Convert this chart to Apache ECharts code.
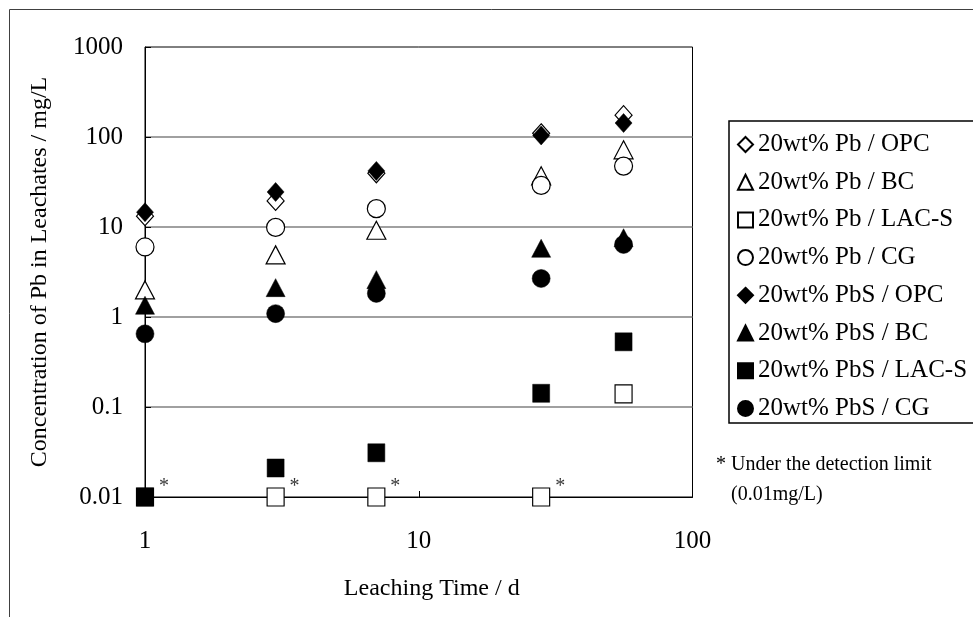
<!DOCTYPE html>
<html>
<head>
<meta charset="utf-8">
<script src="https://cdn.jsdelivr.net/npm/echarts@6/dist/echarts.min.js"></script>
<style>
html,body{margin:0;padding:0;background:#fff;}
#chart{width:973px;height:617px;}
</style>
</head>
<body>
<div id="chart"></div>
<script>
// ---- data ----
const days = [1, 3, 7, 28, 56];
const seriesNames = [
  '20wt% Pb / OPC', '20wt% Pb / BC', '20wt% Pb / LAC-S', '20wt% Pb / CG',
  '20wt% PbS / OPC', '20wt% PbS / BC', '20wt% PbS / LAC-S', '20wt% PbS / CG'
];
const pbOPC   = [13.2, 19.5, 39.5, 110, 175];
const pbBC    = [2.0, 4.9, 9.2, 37, 72];
const pbLACS  = [0.01, 0.01, 0.01, 0.01, 0.14];
const pbCG    = [6.0, 9.9, 16.0, 29, 47.5];
const pbsOPC  = [14.6, 24.5, 42, 104, 143];
const pbsBC   = [1.35, 2.12, 2.6, 5.8, 7.6];
const pbsLACS = [0.01, 0.021, 0.031, 0.142, 0.53];
const pbsCG   = [0.65, 1.09, 1.83, 2.68, 6.4];
const asteriskDays = [1, 3, 7, 28];
const detectionLimit = 0.01;
const xTickLabels = ['1', '10', '100'];
const yTickLabels = ['0.01', '0.1', '1', '10', '100', '1000'];
const xTitle = 'Leaching Time / d';
const yTitle = 'Concentration of Pb in Leachates / mg/L';
const noteLines = ['* Under the detection limit', '(0.01mg/L)'];

// ---- chart ----
const FONT = '"Liberation Serif", "Times New Roman", serif';
const values = [pbOPC, pbBC, pbLACS, pbCG, pbsOPC, pbsBC, pbsLACS, pbsCG];
const symbols = ['diamond', 'triangle', 'rect', 'circle', 'diamond', 'triangle', 'rect', 'circle'];
const sizes = {diamond: [17, 19], triangle: [19, 18], rect: [17, 18], circle: [18, 18]};

function findLabel(list, v) {
  const t = list.find(s => Math.abs(Math.log10(parseFloat(s)) - Math.log10(v)) < 1e-6);
  return t === undefined ? '' : t;
}

const series = values.map((arr, i) => {
  const filled = i >= 4;
  return {
    name: seriesNames[i],
    type: 'scatter',
    symbol: symbols[i],
    symbolSize: sizes[symbols[i]],
    data: days.map((d, j) => [d, arr[j]]),
    itemStyle: filled
      ? {color: '#000', borderColor: '#000', borderWidth: 0.5, opacity: 1}
      : {color: '#fff', borderColor: '#000', borderWidth: 1.2, opacity: 1},
    emphasis: {disabled: true},
    z: 3 + i
  };
});

series.push({
  name: 'asterisk',
  type: 'scatter',
  symbolSize: 0,
  silent: true,
  data: asteriskDays.map(d => [d, detectionLimit]),
  label: {
    show: true,
    formatter: '*',
    position: 'inside',
    offset: [19, -10],
    fontFamily: FONT,
    fontSize: 20,
    color: '#000'
  },
  z: 20
});

const chart = echarts.init(document.getElementById('chart'), null, {renderer: 'canvas'});
chart.setOption({
  animation: false,
  backgroundColor: '#fff',
  grid: {
    left: 145, right: 280.5, top: 47, bottom: 120,
    show: true, borderColor: '#000', borderWidth: 1, backgroundColor: 'transparent'
  },
  xAxis: {
    type: 'log', logBase: 10, min: 1, max: 100,
    axisLine: {show: true, lineStyle: {color: '#000', width: 1}},
    axisTick: {show: true, inside: true, length: 6, lineStyle: {color: '#000', width: 1}},
    minorTick: {show: false},
    splitLine: {show: false},
    axisLabel: {
      margin: 32, fontFamily: FONT, fontSize: 25, color: '#000',
      formatter: v => findLabel(xTickLabels, v)
    },
    name: xTitle, nameLocation: 'middle', nameGap: 80,
    nameTextStyle: {fontFamily: FONT, fontSize: 24, color: '#000', padding: [0, 0, 0, 26]}
  },
  yAxis: {
    type: 'log', logBase: 10, min: 0.01, max: 1000,
    axisLine: {show: true, lineStyle: {color: '#000', width: 1}},
    axisTick: {show: true, inside: true, length: 6, lineStyle: {color: '#000', width: 1}},
    minorTick: {show: false},
    splitLine: {show: true, showMinLine: false, showMaxLine: false,
      lineStyle: {color: '#808080', width: 1.5}},
    axisLabel: {
      margin: 22, fontFamily: FONT, fontSize: 25, color: '#000',
      formatter: v => findLabel(yTickLabels, v)
    },
    name: yTitle, nameLocation: 'middle', nameGap: 93,
    nameTextStyle: {fontFamily: FONT, fontSize: 24, color: '#000'}
  },
  legend: {
    data: seriesNames,
    orient: 'vertical',
    left: 737, top: 132,
    padding: 0,
    itemGap: 12.7,
    itemWidth: 15, itemHeight: 15,
    selectedMode: false,
    textStyle: {fontFamily: FONT, fontSize: 25, color: '#000', lineHeight: 24}
  },
  graphic: [
    {type: 'rect', silent: true, z: -10,
      shape: {x: 9.5, y: 9.5, width: 1000, height: 700},
      style: {fill: 'none', stroke: '#404040', lineWidth: 1}},
    {type: 'rect', silent: true,
      shape: {x: 729, y: 121, width: 300, height: 302},
      style: {fill: 'none', stroke: '#000', lineWidth: 1.5}},
    {type: 'text', silent: true, x: 716, y: 465,
      style: {text: noteLines[0], font: '20px ' + FONT, fill: '#000', verticalAlign: 'middle'}},
    {type: 'text', silent: true, x: 731, y: 495,
      style: {text: noteLines[1], font: '20px ' + FONT, fill: '#000', verticalAlign: 'middle'}}
  ],
  series: series
});
</script>
</body>
</html>
